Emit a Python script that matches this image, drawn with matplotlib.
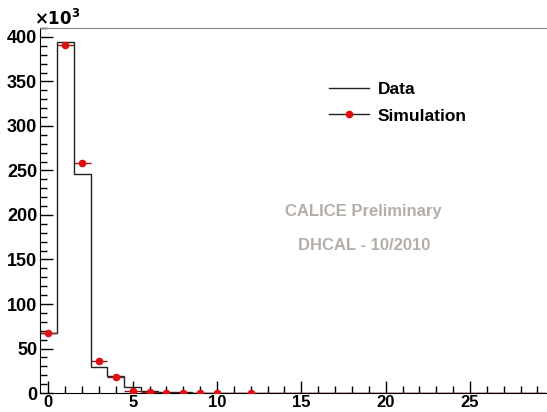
import numpy as np
import matplotlib.pyplot as plt
from matplotlib.ticker import MultipleLocator

# hits per layer, in units of 10^3
bins = np.arange(0, 30)
data_k = [68, 394, 246, 29, 19, 7, 2.0, 1.2, 0.8, 0.5, 0.3, 0.2, 0.2, 0.1, 0.1,
          0.05, 0.05, 0.02, 0.02, 0.01, 0.01, 0, 0, 0, 0, 0, 0, 0, 0, 0]
sim_k = [67, 391, 258, 36, 18, 2.5, 0.8, 0.5, 0.6, 0.3, 0.2, 0, 0.2, 0, 0,
         0, 0, 0, 0, 0, 0, 0, 0, 0, 0, 0, 0, 0, 0, 0]
sim_marked = [0, 1, 2, 3, 4, 5, 6, 7, 8, 9, 10, 12]

plt.rcParams['font.family'] = ['Liberation Sans', 'DejaVu Sans']
plt.rcParams['font.weight'] = 'bold'

fig = plt.figure(figsize=(5.47, 4.12), dpi=100)
ax = fig.add_axes([0.073, 0.046, 0.925, 0.886])

edges = np.arange(-0.5, 30.5, 1)
ax.stairs(data_k, edges, color='#222222', lw=1.0, label='Data', baseline=None)

# simulation: horizontal bin-width error bars on every bin, markers where filled
sim = np.array(sim_k, dtype=float)
ax.errorbar(bins, sim, xerr=0.5, fmt='none', ecolor='#8b1a1a', elinewidth=1.0,
            capsize=0, zorder=3)
mk = np.array(sim_marked)
ax.plot(mk, sim[mk], 'o', color='#dd1111', ms=4.5, zorder=4)
ax.plot([], [], '-o', color='#222222', mfc='#dd1111', mec='#dd1111', ms=4.5,
        lw=1.0, label='Simulation')

ax.set_xlim(-0.5, 29.5)
ax.set_ylim(0, 410)
ax.xaxis.set_major_locator(MultipleLocator(5))
ax.xaxis.set_minor_locator(MultipleLocator(1))
ax.yaxis.set_major_locator(MultipleLocator(50))
ax.yaxis.set_minor_locator(MultipleLocator(10))
ax.tick_params(which='both', direction='in', width=1.0)
ax.tick_params(which='major', length=9)
ax.tick_params(which='minor', length=5)
ax.tick_params(axis='x', pad=1.5, labelsize=12)
ax.tick_params(axis='y', pad=2, labelsize=13)
for lab in ax.get_xticklabels() + ax.get_yticklabels():
    lab.set_fontweight('bold')

ax.spines['top'].set_color('#888888')
ax.spines['right'].set_visible(False)
ax.spines['left'].set_color('black')
ax.spines['bottom'].set_color('black')

ax.text(-0.012, 1.0, r'$\mathbf{\times10^{3}}$', transform=ax.transAxes,
        fontsize=12, ha='left', va='bottom')

leg = ax.legend(loc='upper left', bbox_to_anchor=(0.54, 0.895), frameon=False,
                handlelength=2.3, handletextpad=0.5, labelspacing=0.65,
                prop={'weight': 'bold', 'size': 12.5})

ax.text(0.64, 0.496, 'CALICE Preliminary', transform=ax.transAxes,
        color='#b5aea8', fontsize=12, ha='center', va='center')
ax.text(0.64, 0.405, 'DHCAL - 10/2010', transform=ax.transAxes,
        color='#b5aea8', fontsize=12, ha='center', va='center')

fig.savefig('out.png', dpi=100)
